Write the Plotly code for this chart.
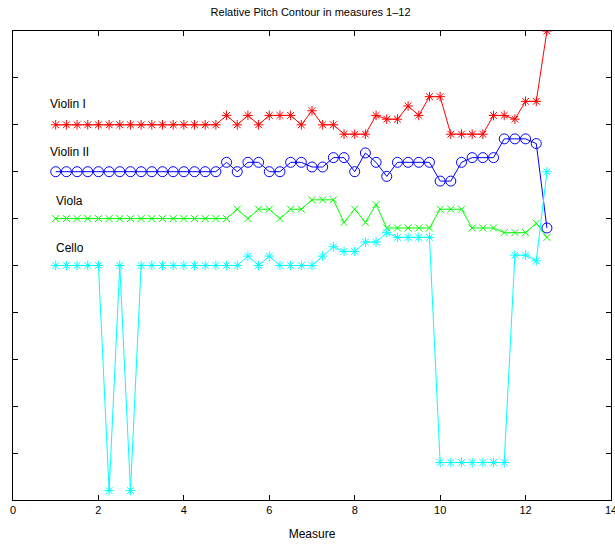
import numpy as np
import plotly.graph_objects as go

measures = [1 + 0.25 * i for i in range(47)]

violin1 = [8.0] * 16 + [8.2, 8.0, 8.2, 8.0, 8.2, 8.2, 8.2, 8.0, 8.3, 8.0, 8.0, 7.8, 7.8, 7.8,
                        8.2, 8.12, 8.12, 8.4, 8.2, 8.6, 8.6, 7.8, 7.8, 7.8, 7.8, 8.2, 8.2, 8.12,
                        8.5, 8.5, 10.0]
violin2 = [7.0] * 16 + [7.2, 7.0, 7.2, 7.2, 7.0, 7.0, 7.2, 7.2, 7.1, 7.1, 7.3, 7.3, 7.0, 7.4,
                        7.2, 6.9, 7.2, 7.2, 7.2, 7.2, 6.8, 6.8, 7.2, 7.3, 7.3, 7.3, 7.7, 7.7,
                        7.7, 7.6, 5.8]
viola = [6.0] * 17 + [6.2, 6.0, 6.2, 6.2, 6.0, 6.2, 6.2, 6.4, 6.4, 6.4, 5.92, 6.2, 5.92, 6.3,
                      5.8, 5.8, 5.8, 5.8, 5.8, 6.2, 6.2, 6.2, 5.8, 5.8, 5.8, 5.7, 5.7, 5.7,
                      5.9, 5.6]
cello = [5.0] * 5 + [0.2, 5.0, 0.2] + [5.0] * 10 + [5.2, 5.0, 5.2, 5.0, 5.0, 5.0, 5.0, 5.2, 5.4,
                                                  5.3, 5.3, 5.5, 5.5, 5.7, 5.6, 5.6, 5.6, 5.6,
                                                  0.8, 0.8, 0.8, 0.8, 0.8, 0.8, 0.8, 5.22, 5.22,
                                                  5.1, 7.0]

labels = ["Violin I", "Violin II", "Viola", "Cello"]
label_x = [0.82, 0.82, 0.96, 0.96]
label_y = [8.44, 7.42, 6.38, 5.37]

series = [
    (violin1, "#ff0000", "asterisk-open", 8),
    (violin2, "#0000ff", "circle-open", 10),
    (viola, "#00ff00", "x-thin-open", 7),
    (cello, "#00ffff", "asterisk-open", 8),
]

fig = go.Figure()
for (vals, col, sym, sz), name in zip(series, labels):
    fig.add_trace(go.Scatter(
        x=measures, y=vals, mode="lines+markers", name=name,
        line=dict(color=col, width=1),
        marker=dict(symbol=sym, size=sz, color=col, line=dict(color=col, width=1)),
        showlegend=False,
    ))

for t, lx, ly in zip(labels, label_x, label_y):
    fig.add_annotation(x=lx, y=ly, text=t, showarrow=False, xanchor="left", yanchor="middle",
                       font=dict(size=12, color="black"))

axis_common = dict(showline=True, linecolor="black", linewidth=1, mirror="ticks",
                   ticks="inside", ticklen=5, tickcolor="black", showgrid=False, zeroline=False,
                   automargin=False)

fig.update_layout(
    width=615, height=547,
    margin=dict(l=13, r=4, t=31, b=47),
    paper_bgcolor="white", plot_bgcolor="white",
    font=dict(family="Liberation Sans, Arial, sans-serif", size=11, color="black"),
    title=dict(text="Relative Pitch Contour in measures 1\u201312", x=0.505, xanchor="center",
               y=0.978, yanchor="middle", font=dict(size=11)),
    xaxis=dict(range=[0, 14], dtick=2, tick0=0, ticklabeloverflow="allow",
               title=dict(text="Measure", standoff=14, font=dict(size=12)),
               **axis_common),
    yaxis=dict(range=[0, 10], dtick=1, tick0=0, showticklabels=False, **axis_common),
)

fig.write_html("out.html")
